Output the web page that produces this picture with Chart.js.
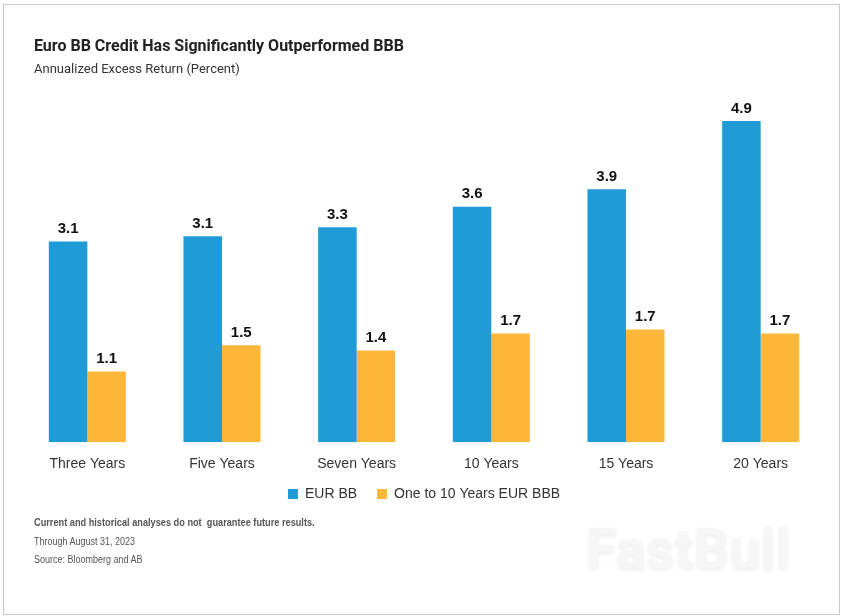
<!DOCTYPE html>
<html>
<head>
<meta charset="utf-8">
<script src="https://cdn.jsdelivr.net/npm/chart.js@4.4.0/dist/chart.umd.min.js"></script>
<style>
  html, body { margin: 0; padding: 0; background: #fff; }
  #frame { position: absolute; left: 3px; top: 4px; width: 835px; height: 609px; border: 1px solid #c8c8c8; }
  #wrap { position: absolute; left: 0; top: 0; width: 843px; height: 616px; }
  .txt { position: absolute; left: 34px; white-space: nowrap; }
  #title { top: 36px; font: bold 16px "Roboto", sans-serif; color: #222; }
  #sub { top: 61px; font: 13px "Roboto", sans-serif; color: #333; }
  .note { font: 10px "Liberation Sans", sans-serif; color: #555; transform: scaleX(0.9); transform-origin: left top; }
  #wm { position: absolute; left: 586px; top: 516px; font: bold 56px "Roboto", sans-serif; color: #f6f6f6; text-shadow: 0 2px 4px #ededed; }
</style>
</head>
<body>
<div id="frame"></div>
<div id="wm">FastBull</div>
<div id="wrap"><canvas id="myChart" width="843" height="616"></canvas></div>
<div class="txt" id="title">Euro BB Credit Has Significantly Outperformed BBB</div>
<div class="txt" id="sub">Annualized Excess Return (Percent)</div>
<div class="txt note" style="top:517px;font-weight:bold;transform:scaleX(0.92);">Current and historical analyses do not&nbsp; guarantee future results.</div>
<div class="txt note" style="top:536px;">Through August 31, 2023</div>
<div class="txt note" style="top:554px;">Source: Bloomberg and AB</div>
<script>
const xValues = ["Three Years", "Five Years", "Seven Years", "10 Years", "15 Years", "20 Years"];
const eurBB = [3.06, 3.14, 3.28, 3.59, 3.86, 4.9];
const eurBBB = [1.08, 1.48, 1.4, 1.66, 1.72, 1.66];
const seriesNames = ["EUR BB", "One to 10 Years EUR BBB"];
const barColors = ["#1f9bd7", "#feb73b"];

const valueLabels = {
  id: "valueLabels",
  afterDatasetsDraw(chart) {
    const ctx = chart.ctx;
    ctx.save();
    ctx.font = "bold 15px 'Liberation Sans', Arial, sans-serif";
    ctx.fillStyle = "#111";
    ctx.textAlign = "center";
    ctx.textBaseline = "bottom";
    chart.data.datasets.forEach((ds, i) => {
      chart.getDatasetMeta(i).data.forEach((bar, j) => {
        ctx.fillText(ds.data[j].toFixed(1), bar.x, bar.y - 5);
      });
    });
    ctx.restore();
  }
};

// pull the legend a bit closer to the axis labels
const legendShift = {
  id: "legendShift",
  afterLayout(chart) {
    chart.legend.top -= 12;
    chart.legend.bottom -= 12;
  }
};

new Chart("myChart", {
  type: "bar",
  data: {
    labels: xValues,
    datasets: [
      { label: seriesNames[0], data: eurBB, backgroundColor: barColors[0] },
      { label: seriesNames[1], data: eurBBB, backgroundColor: barColors[1] }
    ]
  },
  options: {
    responsive: false,
    animation: false,
    layout: { padding: { left: 20, right: 15, top: 100, bottom: 93 } },
    datasets: { bar: { categoryPercentage: 0.572, barPercentage: 1 } },
    scales: {
      x: {
        grid: { display: false },
        border: { display: false },
        ticks: { color: "#333", padding: 6, font: { size: 14, family: "'Liberation Sans', sans-serif" } }
      },
      y: { display: false, min: 0, max: 5.22 }
    },
    plugins: {
      legend: {
        position: "bottom",
        labels: {
          boxWidth: 10, boxHeight: 10, padding: 20, color: "#333",
          font: { size: 14, family: "'Liberation Sans', sans-serif" }
        }
      },
      tooltip: { enabled: false }
    }
  },
  plugins: [valueLabels, legendShift]
});
</script>
</body>
</html>
